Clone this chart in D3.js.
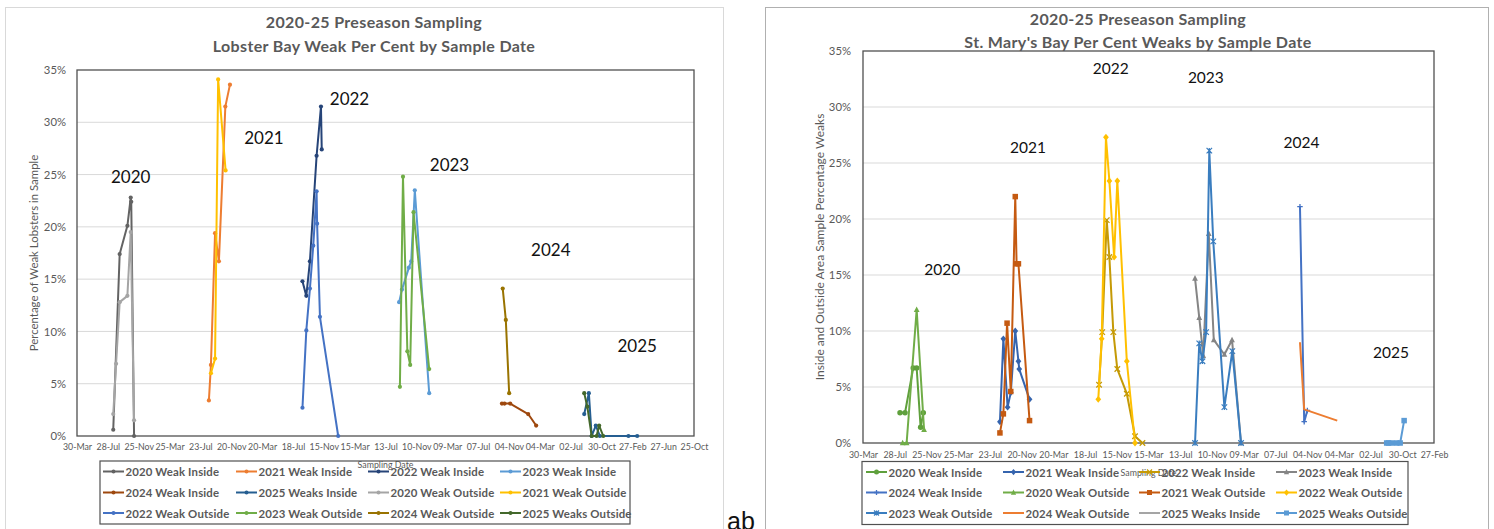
<!DOCTYPE html>
<html><head><meta charset="utf-8">
<script src="https://cdn.jsdelivr.net/npm/d3@7"></script>
<style>
body{margin:0;background:#fff;}
svg{display:block;font-family:Lato,"Open Sans",sans-serif;}
</style>
</head><body>
<svg id="c" width="1494" height="529"></svg>
<script>
// ---------------- DATA ----------------
const axisStart = "2020-03-30";
const lbTickLabels = ["30-Mar","28-Jul","25-Nov","25-Mar","23-Jul","20-Nov","20-Mar","18-Jul","15-Nov","15-Mar","13-Jul","10-Nov","09-Mar","07-Jul","04-Nov","04-Mar","02-Jul","30-Oct","27-Feb","27-Jun","25-Oct"];
const smTickLabels = ["30-Mar","28-Jul","25-Nov","25-Mar","23-Jul","20-Nov","20-Mar","18-Jul","15-Nov","15-Mar","13-Jul","10-Nov","09-Mar","07-Jul","04-Nov","04-Mar","02-Jul","30-Oct","27-Feb"];
const yTickValues = [0,5,10,15,20,25,30,35];
const yearLabels = ["2020","2021","2022","2023","2024","2025"];

// Lobster Bay (left)
const lb2020Inside  = [["2020-08-18",0.6],["2020-09-12",17.4],["2020-10-12",20.1],["2020-10-25",22.8],["2020-10-27",22.4],["2020-11-07",0]];
const lb2021Inside  = [["2021-08-25",3.4],["2021-09-02",6.8],["2021-09-18",19.4],["2021-10-03",16.7],["2021-10-28",31.5],["2021-11-15",33.6]];
const lb2022Inside  = [["2022-08-24",14.8],["2022-09-08",13.4],["2022-09-22",16.7],["2022-10-18",26.8],["2022-11-04",31.5],["2022-11-07",27.4]];
const lb2023Inside  = [["2023-09-04",12.8],["2023-09-15",14.0],["2023-10-12",16.1],["2023-10-21",16.7],["2023-11-04",23.5],["2023-12-30",4.1]];
const lb2024Inside  = [["2024-10-08",3.1],["2024-10-18",3.1],["2024-11-09",3.1],["2025-01-18",2.1],["2025-02-18",1.0]];
const lb2025Inside  = [["2025-08-24",2.1],["2025-09-11",4.1],["2025-09-22",0],["2025-10-08",1.0],["2025-10-24",0],["2026-02-12",0],["2026-03-18",0]];
const lb2020Outside = [["2020-08-18",2.1],["2020-08-29",6.9],["2020-09-12",12.8],["2020-10-12",13.4],["2020-10-25",19.5],["2020-11-07",1.5]];
const lb2021Outside = [["2021-09-02",6.0],["2021-09-18",7.4],["2021-09-30",34.1],["2021-10-29",25.4]];
const lb2022Outside = [["2022-08-24",2.7],["2022-09-08",10.1],["2022-09-22",14.1],["2022-10-05",18.2],["2022-10-18",23.4],["2022-10-20",20.3],["2022-10-31",11.4],["2023-01-10",0]];
const lb2023Outside = [["2023-09-07",4.7],["2023-09-19",24.8],["2023-10-06",8.1],["2023-10-17",6.8],["2023-10-30",21.4],["2023-12-30",6.4]];
const lb2024Outside = [["2024-10-11",14.1],["2024-10-23",11.1],["2024-11-05",4.1]];
const lb2025Outside = [["2025-08-24",4.1],["2025-09-05",2.8],["2025-09-22",0],["2025-10-11",0],["2025-10-21",1.0],["2025-11-06",0]];
const lbYearAnchors = [["2020-10-25",24.8],["2022-03-27",28.5],["2023-02-23",32.3],["2024-03-18",26.0],["2025-04-16",17.85],["2026-03-18",8.7]];

// St. Mary's Bay (right)
const sm2020Inside  = [["2020-08-17",2.7],["2020-09-05",2.7],["2020-10-06",6.7],["2020-10-19",6.7],["2020-11-03",1.4],["2020-11-13",2.7]];
const sm2021Inside  = [["2021-08-30",1.9],["2021-09-12",9.3],["2021-09-28",3.2],["2021-10-10",4.5],["2021-10-27",10.0],["2021-11-08",7.3],["2021-11-11",6.6],["2021-12-20",3.9]];
const sm2022Inside  = [["2022-09-09",5.2],["2022-09-21",9.9],["2022-10-08",19.9],["2022-10-18",16.6],["2022-11-02",9.9],["2022-11-17",6.6],["2022-12-23",4.4],["2023-01-23",0.6],["2023-02-20",0]];
const sm2023Inside  = [["2023-09-07",14.7],["2023-09-23",11.2],["2023-10-08",7.8],["2023-10-29",18.7],["2023-11-17",9.2],["2023-12-27",7.9],["2024-01-25",9.2],["2024-02-28",0]];
const sm2024Inside  = [["2024-10-08",21.1],["2024-10-24",1.9],["2024-11-05",2.9]];
const sm2020Outside = [["2020-08-27",0],["2020-09-11",0],["2020-10-19",11.9],["2020-11-16",1.2]];
const sm2021Outside = [["2021-08-30",0.9],["2021-09-12",2.6],["2021-09-26",10.7],["2021-10-10",4.6],["2021-10-27",22.0],["2021-11-01",16.0],["2021-11-08",16.0],["2021-12-20",2.0]];
const sm2022Outside = [["2022-09-06",3.9],["2022-09-19",9.3],["2022-10-05",27.3],["2022-10-18",23.4],["2022-11-05",16.6],["2022-11-17",23.4],["2022-12-23",7.3],["2023-01-23",0]];
const sm2023Outside = [["2023-09-07",0],["2023-09-23",8.9],["2023-10-05",7.3],["2023-10-19",9.9],["2023-10-31",26.1],["2023-11-15",18.0],["2023-12-27",3.2],["2024-01-26",8.2],["2024-02-28",0]];
const sm2024Outside = [["2024-10-08",9.0],["2024-10-24",3.0],["2025-02-26",2.0]];
const sm2025Inside  = [["2025-09-01",0],["2025-10-22",0]];
const sm2025Outside = [["2025-09-01",0],["2025-09-08",0],["2025-09-20",0],["2025-10-09",0],["2025-10-22",0],["2025-11-06",2.0]];
const smYearAnchors = [["2021-01-24",15.5],["2021-12-14",26.4],["2022-10-23",33.5],["2023-10-18",32.65],["2024-10-14",26.9],["2025-09-17",8.15]];

// ---------------- SERIES CONFIG ----------------
const lbSeries = [
  {name:"2020 Weak Inside",  data:lb2020Inside,  color:"#636363", marker:"circle"},
  {name:"2021 Weak Inside",  data:lb2021Inside,  color:"#ED7D31", marker:"circle"},
  {name:"2022 Weak Inside",  data:lb2022Inside,  color:"#264478", marker:"circle"},
  {name:"2023 Weak Inside",  data:lb2023Inside,  color:"#5B9BD5", marker:"circle"},
  {name:"2024 Weak Inside",  data:lb2024Inside,  color:"#9E480E", marker:"circle"},
  {name:"2025 Weaks Inside", data:lb2025Inside,  color:"#255E91", marker:"circle"},
  {name:"2020 Weak Outside", data:lb2020Outside, color:"#A5A5A5", marker:"circle"},
  {name:"2021 Weak Outside", data:lb2021Outside, color:"#FFC000", marker:"circle"},
  {name:"2022 Weak Outside", data:lb2022Outside, color:"#4472C4", marker:"circle"},
  {name:"2023 Weak Outside", data:lb2023Outside, color:"#70AD47", marker:"circle"},
  {name:"2024 Weak Outside", data:lb2024Outside, color:"#997300", marker:"circle"},
  {name:"2025 Weaks Outside",data:lb2025Outside, color:"#43682B", marker:"circle"}
];
const smSeries = [
  {name:"2020 Weak Inside",  data:sm2020Inside,  color:"#5FA03C", marker:"circle"},
  {name:"2021 Weak Inside",  data:sm2021Inside,  color:"#3564AE", marker:"diamond"},
  {name:"2022 Weak Inside",  data:sm2022Inside,  color:"#C59A06", marker:"x"},
  {name:"2023 Weak Inside",  data:sm2023Inside,  color:"#858585", marker:"triangle"},
  {name:"2024 Weak Inside",  data:sm2024Inside,  color:"#4472C4", marker:"plus"},
  {name:"2020 Weak Outside", data:sm2020Outside, color:"#70AD47", marker:"triangle"},
  {name:"2021 Weak Outside", data:sm2021Outside, color:"#C55A11", marker:"square"},
  {name:"2022 Weak Outside", data:sm2022Outside, color:"#FFC000", marker:"diamond"},
  {name:"2023 Weak Outside", data:sm2023Outside, color:"#3A7DBF", marker:"asterisk"},
  {name:"2024 Weak Outside", data:sm2024Outside, color:"#ED7D31", marker:"none"},
  {name:"2025 Weaks Inside", data:sm2025Inside,  color:"#A5A5A5", marker:"none"},
  {name:"2025 Weaks Outside",data:sm2025Outside, color:"#5B9BD5", marker:"square"}
];

// ---------------- DRAWING ----------------
const parse = d3.timeParse("%Y-%m-%d");
const svg = d3.select("#c");
const textCol = "#595959";

function drawMarker(g, type, cx, cy, color, s) {
  const h = s/2;
  if (type === "circle") {
    g.append("circle").attr("cx",cx).attr("cy",cy).attr("r",h).attr("fill",color);
  } else if (type === "diamond") {
    g.append("path").attr("d",`M${cx},${cy-h*1.25}L${cx+h*1.05},${cy}L${cx},${cy+h*1.25}L${cx-h*1.05},${cy}Z`).attr("fill",color);
  } else if (type === "triangle") {
    g.append("path").attr("d",`M${cx},${cy-h*1.2}L${cx+h*1.05},${cy+h*0.85}L${cx-h*1.05},${cy+h*0.85}Z`).attr("fill",color);
  } else if (type === "square") {
    g.append("rect").attr("x",cx-h).attr("y",cy-h).attr("width",s).attr("height",s).attr("fill",color);
  } else if (type === "x") {
    g.append("path").attr("d",`M${cx-h},${cy-h}L${cx+h},${cy+h}M${cx-h},${cy+h}L${cx+h},${cy-h}`).attr("stroke",color).attr("stroke-width",1.3).attr("fill","none");
  } else if (type === "plus") {
    g.append("path").attr("d",`M${cx-h},${cy}L${cx+h},${cy}M${cx},${cy-h}L${cx},${cy+h}`).attr("stroke",color).attr("stroke-width",1.3).attr("fill","none");
  } else if (type === "asterisk") {
    g.append("path").attr("d",`M${cx-h},${cy-h}L${cx+h},${cy+h}M${cx-h},${cy+h}L${cx+h},${cy-h}M${cx},${cy-h}L${cx},${cy+h}`).attr("stroke",color).attr("stroke-width",1.2).attr("fill","none");
  }
}

function drawChart(o) {
  const g = svg.append("g");
  g.append("rect").attr("x",o.frame[0]).attr("y",o.frame[1]).attr("width",o.frame[2]).attr("height",o.frame[3])
    .attr("fill","none").attr("stroke",o.frameColor).attr("stroke-width",1);

  const start = parse(axisStart);
  const tickDates = o.tickLabels.map((_,i)=>d3.timeDay.offset(start,120*i));
  const x = d3.scaleTime().domain([start, tickDates[tickDates.length-1]]).range([o.x0,o.x1]);
  const y = d3.scaleLinear().domain([0,35]).range([o.y0,o.y1]);

  g.append("g").selectAll("line").data(yTickValues.slice(1,-1)).join("line")
    .attr("x1",o.x0).attr("x2",o.x1).attr("y1",d=>y(d)).attr("y2",d=>y(d))
    .attr("stroke","#D9D9D9").attr("stroke-width",1);

  const ya = g.append("g").attr("transform",`translate(${o.x0},0)`)
    .call(d3.axisLeft(y).tickValues(yTickValues).tickFormat(d=>d+"%").tickSize(0).tickPadding(o.yPad));
  ya.select(".domain").remove();
  ya.selectAll("text").attr("fill",textCol).style("font-size","11.3px").style("font-family","Lato,sans-serif");

  const xa = g.append("g").attr("transform",`translate(0,${o.y0})`)
    .call(d3.axisBottom(x).tickValues(tickDates).tickFormat((d,i)=>o.tickLabels[i]).tickSize(0).tickPadding(o.xPad));
  xa.select(".domain").remove();
  xa.selectAll("text").attr("fill",textCol).style("font-size","8.8px").style("font-family","Lato,sans-serif");

  g.append("rect").attr("x",o.x0).attr("y",o.y1).attr("width",o.x1-o.x0).attr("height",o.y0-o.y1)
    .attr("fill","none").attr("stroke","#505050").attr("stroke-width",1.3);

  const line = d3.line().x(d=>x(parse(d[0]))).y(d=>y(d[1]));
  o.series.forEach(s=>{
    g.append("path").datum(s.data).attr("d",line).attr("fill","none")
      .attr("stroke",s.color).attr("stroke-width",o.lineW).attr("stroke-linejoin","round");
    const mg = g.append("g");
    s.data.forEach(d=>drawMarker(mg, s.marker, x(parse(d[0])), y(d[1]), s.color, o.markerSize));
  });

  g.append("g").selectAll("text").data(o.yearAnchors).join("text")
    .attr("x",d=>x(parse(d[0]))).attr("y",d=>y(d[1]))
    .attr("text-anchor","middle").attr("dominant-baseline","central")
    .style("font-size",o.yearFont+"px").attr("fill","#111")
    .text((d,i)=>yearLabels[i]);

  o.title.forEach((t,i)=>{
    g.append("text").attr("x",o.titleX).attr("y",o.titleY[i]).attr("text-anchor","middle")
      .attr("dominant-baseline","central").style("font-size","16px").style("font-weight","bold")
      .style("letter-spacing","0.35px").attr("fill",textCol).text(t);
  });

  g.append("text").attr("transform",`translate(${o.yTitleX},${(o.y0+o.y1)/2}) rotate(-90)`)
    .attr("text-anchor","middle").attr("dominant-baseline","central")
    .style("font-size",o.yTitleFont+"px").attr("fill",textCol).text(o.yTitle);
  g.append("text").attr("x",(o.x0+o.x1)/2).attr("y",o.xTitleY).attr("text-anchor","middle")
    .attr("dominant-baseline","central").style("font-size","8.8px").attr("fill",textCol).text("Sampling Date");

  const L = o.legend;
  g.append("rect").attr("x",L.x).attr("y",L.y).attr("width",L.w).attr("height",L.h)
    .attr("fill","none").attr("stroke","#505050").attr("stroke-width",1.2);
  o.series.forEach((s,i)=>{
    const c = i%4, r = Math.floor(i/4);
    const lx = L.cols[c], ly = L.rows[r];
    const lg = g.append("g");
    lg.append("line").attr("x1",lx).attr("x2",lx+21).attr("y1",ly).attr("y2",ly)
      .attr("stroke",s.color).attr("stroke-width",2);
    drawMarker(lg, s.marker, lx+10.5, ly, s.color, o.legendMarker);
    lg.append("text").attr("x",lx+22.5).attr("y",ly).attr("dominant-baseline","central")
      .style("font-size","11.4px").style("font-weight","bold").style("letter-spacing","0.15px")
      .attr("fill",textCol).text(s.name);
  });
}

drawChart({
  frame:[5.5,7.5,718,540], frameColor:"#D9D9D9",
  x0:77, x1:694, y0:436, y1:70, yPad:11, xPad:8, lineW:2, markerSize:4.2, legendMarker:4,
  tickLabels: lbTickLabels, series: lbSeries, yearAnchors: lbYearAnchors, yearFont:17,
  title:["2020-25 Preseason Sampling","Lobster Bay Weak Per Cent by Sample Date"], titleX:374, titleY:[21,45],
  yTitle:"Percentage of Weak Lobsters in Sample", yTitleX:33, yTitleFont:11.4, xTitleY:464,
  legend:{x:100, y:461, w:530, h:63, cols:[103,236,368,500], rows:[471.5,492.5,513]}
});

drawChart({
  frame:[765.5,7.5,723,540], frameColor:"#B0B0B0",
  x0:863, x1:1434, y0:443, y1:51, yPad:12, xPad:9, lineW:2, markerSize:5.5, legendMarker:5,
  tickLabels: smTickLabels, series: smSeries, yearAnchors: smYearAnchors, yearFont:15.5,
  title:["2020-25 Preseason Sampling","St. Mary's Bay Per Cent Weaks by Sample Date"], titleX:1138, titleY:[18,41],
  yTitle:"Inside and Outside Area Sample Percentage Weaks", yTitleX:819, yTitleFont:12, xTitleY:472,
  legend:{x:862, y:461.5, w:546, h:63, cols:[866,1003,1139,1276], rows:[472,492.5,513]}
});

svg.append("text").attr("x",727).attr("y",530).style("font-family","'Liberation Sans',Arial,sans-serif")
  .style("font-size","25px").attr("fill","#111").text("ab");
</script>
</body></html>
